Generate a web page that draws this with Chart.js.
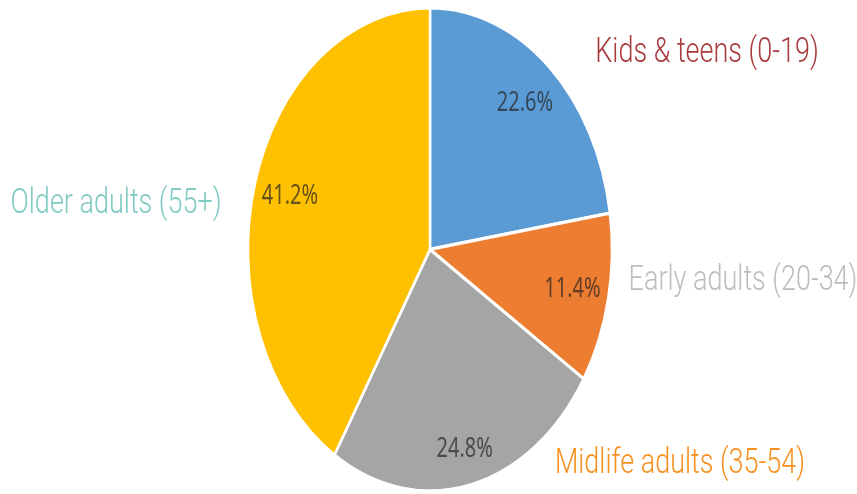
<!DOCTYPE html>
<html lang="en">
<head>
<meta charset="UTF-8">
<title>Faixas etárias</title>
<script src="https://cdn.jsdelivr.net/npm/chart.js@4"></script>
<style>
    html, body { margin: 0; padding: 0; background: #ffffff; }
    canvas { display: block; }
</style>
</head>
<body>
<canvas id="graficoIdades" width="857" height="494"></canvas>
<script>
// =========================================
// DADOS DO GRÁFICO
// =========================================
const categorias = ["Kids & teens (0-19)", "Early adults (20-34)", "Midlife adults (35-54)", "Older adults (55+)"];
const percentuais = [22.6, 11.4, 24.8, 41.2];

// Cores das fatias e dos nomes das categorias
const coresFatias = ["#5B9BD5", "#ED7D31", "#A5A5A5", "#FFC000"];
const coresCategorias = ["#A8393D", "#BDBDBD", "#F7901E", "#7FCAC3"];

// =========================================
// LAYOUT (a figura original foi esticada na vertical)
// =========================================
const ESTICAMENTO_Y = 1.327;
const RAIO = 182;

// Posição dos nomes em relação ao centro da pizza (centro do texto, linha de base)
const posNomes = [
    { dx: 277, dy: -141 },
    { dx: 313, dy: 30.5 },
    { dx: 250, dy: 168.5 },
    { dx: -314, dy: -27.5 }
];

// Distância dos percentuais ao centro, em fração do raio
const distPercentual = [0.8, 0.8, 0.85, 0.8];

// =========================================
// PLUGIN: ESTICA O DESENHO E ESCREVE OS RÓTULOS
// =========================================
const pluginRotulos = {
    id: "rotulos",
    beforeDraw(chart) {
        // Aplica a escala vertical em tudo o que for desenhado
        chart.ctx.save();
        chart.ctx.scale(1, ESTICAMENTO_Y);
    },
    afterDraw(chart) {
        const ctx = chart.ctx;
        const meta = chart.getDatasetMeta(0);

        // Percentuais dentro das fatias
        ctx.font = "20px 'Noto Sans'";
        ctx.fillStyle = "rgba(35, 35, 35, 0.7)";
        ctx.textAlign = "center";
        ctx.textBaseline = "middle";
        meta.data.forEach((arco, i) => {
            const p = arco.getProps(["x", "y", "startAngle", "endAngle", "outerRadius"], true);
            const meio = (p.startAngle + p.endAngle) / 2;
            const r = p.outerRadius * distPercentual[i];
            ctx.fillText(percentuais[i].toFixed(1) + "%", p.x + Math.cos(meio) * r, p.y + Math.sin(meio) * r);
        });

        // Nomes das categorias em volta da pizza
        const centro = meta.data[0].getProps(["x", "y"], true);
        ctx.font = "300 27px Roboto";
        ctx.textBaseline = "alphabetic";
        categorias.forEach((nome, i) => {
            ctx.fillStyle = coresCategorias[i];
            ctx.fillText(nome, centro.x + posNomes[i].dx, centro.y + posNomes[i].dy);
        });

        ctx.restore();
    }
};

// =========================================
// CRIAÇÃO DO GRÁFICO
// =========================================
window.addEventListener("DOMContentLoaded", () => {
    const canvas = document.getElementById("graficoIdades");

    new Chart(canvas, {
        type: "pie",
        data: {
            labels: categorias,
            datasets: [
                {
                    data: percentuais,
                    backgroundColor: coresFatias,
                    borderColor: "#ffffff",
                    borderWidth: 2.5
                }
            ]
        },
        options: {
            responsive: false,
            animation: false,
            devicePixelRatio: 1,
            radius: RAIO,
            layout: {
                padding: { left: 3, right: 0, top: 0, bottom: 118 }
            },
            plugins: {
                legend: { display: false },
                tooltip: { enabled: false }
            }
        },
        plugins: [pluginRotulos]
    });
});
</script>
</body>
</html>
